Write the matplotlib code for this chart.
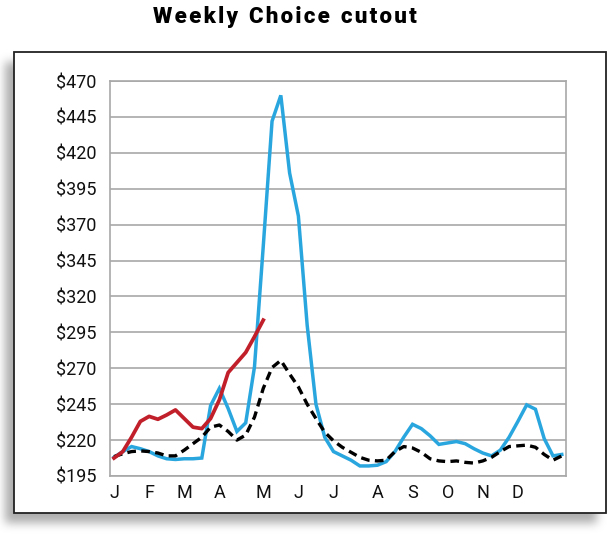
import numpy as np
import matplotlib
matplotlib.use("Agg")
import matplotlib.pyplot as plt
from matplotlib.patches import Rectangle

# weekly Choice cutout, $/cwt
semanas = np.arange(1, 53)
precio_2020 = [208, 212, 215.5, 214, 212, 209, 207, 206.5, 207, 207,
               207.5, 244, 256, 242, 226, 232, 271, 355, 442, 460,
               406, 376, 300, 245, 222, 212, 209, 206, 202, 202,
               202.5, 205, 212, 222, 231, 228, 223, 217, 218, 219,
               217.5, 214, 211, 209, 213, 222, 233, 244.5, 241.5, 221,
               209, 210]
precio_2021 = [207.5, 212, 222, 233, 236.5, 234.5, 237.5, 241, 235, 229,
               228, 235, 248, 267, 274, 281, 292, 303.5]
promedio = [208.5, 210.5, 212, 212.5, 212, 211, 209, 209, 213, 217.5,
            222, 229, 230.5, 226, 220, 223.5, 236, 256, 270.5, 275.5,
            266, 257, 245, 235, 225.5, 219.5, 215, 211.5, 208, 206,
            205.5, 206, 212, 215.5, 214.5, 211.5, 207, 205.5, 205, 205.5,
            204.5, 204, 205.5, 208, 212, 215.5, 216, 216.5, 215, 210,
            206, 209]
meses = ["J", "F", "M", "A", "M", "J", "J", "A", "S", "O", "N", "D"]
semana_mes = [1, 5, 9, 13, 18, 22, 26, 31, 35, 39, 43, 47]
y_ticks = list(range(195, 471, 25))

W, H = 610, 538
fig = plt.figure(figsize=(W / 100, H / 100), dpi=100)

# sombra difusa bajo el recuadro
mascara = np.zeros((H, W))
mascara[62:523, 5:597] = 1.0
k = np.ones(9) / 9
for _ in range(3):
    mascara = np.apply_along_axis(lambda r: np.convolve(r, k, mode="same"), 1, mascara)
    mascara = np.apply_along_axis(lambda c: np.convolve(c, k, mode="same"), 0, mascara)
sombra = np.ones((H, W, 4))
sombra[..., :3] = 0.6
sombra[..., 3] = mascara * 0.8
fig.figimage(sombra[::-1], xo=0, yo=0, origin="lower", zorder=0)

caja = Rectangle((14 / W, 1 - 513 / H), 592 / W, 461 / H, transform=fig.transFigure,
                 facecolor="white", edgecolor="#222222", linewidth=1.3, zorder=1)
fig.patches.append(caja)

fig.text(285 / W, 1 - 17 / H, "W e e k l y  C h o i c e  c u t o u t".replace(" ", "\u200a").replace("\u200a\u200a", "  "),
         ha="center", va="center", fontsize=16, fontweight=900,
         family="Roboto", color="black")

ax = fig.add_axes([110 / W, 1 - 476 / H, 456 / W, 395 / H])
ax.set_zorder(3)
ax.patch.set_alpha(0)

ax.plot(semanas, precio_2020, color="#2aa6df", linewidth=2.5, solid_joinstyle="miter", zorder=3)
ax.plot(semanas, promedio, color="black", linewidth=2.4, linestyle=(0, (2.6, 1.6)), zorder=4)
ax.plot(semanas[:len(precio_2021)], precio_2021, color="#c1202b", linewidth=2.7, zorder=5)

ax.set_xlim(0.544, 52.48)
ax.set_ylim(195, 470)
ax.set_yticks(y_ticks)
ax.set_yticklabels([f"${v}" for v in y_ticks])
ax.set_xticks(semana_mes)
ax.set_xticklabels(meses)
ax.grid(axis="y", color="#a8a8a8", linewidth=1.2)
ax.set_axisbelow(True)
for s in ax.spines.values():
    s.set_color("#a8a8a8")
    s.set_linewidth(1.2)
ax.tick_params(length=0, labelsize=13, colors="#111111")
ax.tick_params(axis="y", pad=10)
ax.tick_params(axis="x", pad=6)
for t in ax.get_xticklabels() + ax.get_yticklabels():
    t.set_family("Roboto")

fig.savefig("out.png", dpi=100)
